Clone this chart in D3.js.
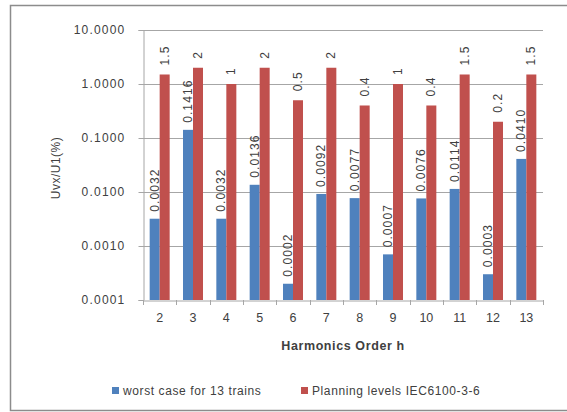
<!DOCTYPE html>
<html>
<head>
<meta charset="utf-8">
<script src="https://cdn.jsdelivr.net/npm/d3@7"></script>
<style>
  body { margin: 0; background: #fff; }
  text { font-family: "Liberation Sans", Arial, sans-serif; fill: #404040; }
</style>
</head>
<body>
<svg id="chart" width="567" height="412"></svg>
<script>
let harmonics = ["2", "3", "4", "5", "6", "7", "8", "9", "10", "11", "12", "13"];
let worstCase = [0.0032, 0.1416, 0.0032, 0.0136, 0.0002, 0.0092, 0.0077, 0.0007, 0.0076, 0.0114, 0.0003, 0.0410];
let worstLabels = ["0.0032", "0.1416", "0.0032", "0.0136", "0.0002", "0.0092", "0.0077", "0.0007", "0.0076", "0.0114", "0.0003", "0.0410"];
let planning = [1.5, 2, 1, 2, 0.5, 2, 0.4, 1, 0.4, 1.5, 0.2, 1.5];
let yTicks = [0.0001, 0.001, 0.01, 0.1, 1, 10];
let seriesNames = ["worst case for 13 trains", "Planning levels IEC6100-3-6"];

let blue = "#4f81bd";
let red = "#c0504d";

let plot = { left: 143, right: 543, top: 30, bottom: 300 };

let svg = d3.select("#chart");

// outer frame
svg.append("rect")
  .attr("x", 10.5)
  .attr("y", 5.5)
  .attr("width", 570)
  .attr("height", 405)
  .style("fill", "none")
  .style("stroke", "#8c8c8c")
  .style("stroke-width", 1.5);

let xScale = d3.scaleBand()
  .domain(harmonics)
  .range([plot.left, plot.right])
  .paddingInner(0.4)
  .paddingOuter(0.2);

let yScale = d3.scaleLog()
  .domain([0.0001, 10])
  .range([plot.bottom, plot.top]);

let barW = xScale.bandwidth() / 2;

// gridlines
svg.selectAll(".grid")
  .data(yTicks.slice(1))
  .enter()
  .append("line")
    .attr("x1", plot.left)
    .attr("x2", plot.right)
    .attr("y1", d => Math.round(yScale(d)) + 0.5)
    .attr("y2", d => Math.round(yScale(d)) + 0.5)
    .style("stroke", "#a6a6a6")
    .style("stroke-width", 1);

// y axis
let yAxis = d3.axisLeft(yScale)
  .tickValues(yTicks)
  .tickFormat(d => d.toFixed(4))
  .tickSize(5)
  .tickPadding(13);

let yG = svg.append("g")
  .attr("transform", `translate(${plot.left + 0.5},0)`)
  .call(yAxis);
yG.select(".domain").style("stroke", "#a6a6a6");
yG.selectAll(".tick line").style("stroke", "#a6a6a6");
yG.selectAll(".tick text")
  .style("font-size", "12px")
  .style("letter-spacing", "1.2px")
  .style("fill", "#404040");

// x axis
let xAxis = d3.axisBottom(xScale).tickSize(0).tickPadding(13);
let xG = svg.append("g")
  .attr("transform", `translate(0,${plot.bottom + 0.5})`)
  .call(xAxis);
xG.select(".domain").style("stroke", "#a6a6a6");
xG.selectAll(".tick text")
  .style("font-size", "12.5px")
  .style("fill", "#404040");

// x tick marks at category boundaries
let step = xScale.step();
svg.selectAll(".xtick")
  .data(d3.range(harmonics.length + 1))
  .enter()
  .append("line")
    .attr("x1", i => Math.round(plot.left + i * step) + 0.5)
    .attr("x2", i => Math.round(plot.left + i * step) + 0.5)
    .attr("y1", plot.bottom)
    .attr("y2", plot.bottom + 5)
    .style("stroke", "#a6a6a6");

// bars
svg.selectAll(".barBlue")
  .data(worstCase)
  .enter()
  .append("rect")
    .attr("x", (d, i) => xScale(harmonics[i]))
    .attr("y", d => yScale(d))
    .attr("width", barW)
    .attr("height", d => plot.bottom - yScale(d))
    .style("fill", blue);

svg.selectAll(".barRed")
  .data(planning)
  .enter()
  .append("rect")
    .attr("x", (d, i) => xScale(harmonics[i]) + barW)
    .attr("y", d => yScale(d))
    .attr("width", barW)
    .attr("height", d => plot.bottom - yScale(d))
    .style("fill", red);

// data labels (rotated)
svg.selectAll(".lblBlue")
  .data(worstCase)
  .enter()
  .append("text")
    .attr("transform", (d, i) => `translate(${xScale(harmonics[i]) + barW / 2 + 4},${yScale(d) - 7}) rotate(-90)`)
    .text((d, i) => worstLabels[i])
    .style("font-size", "12px")
    .style("letter-spacing", "1.1px")
    .style("fill", "#404040");

svg.selectAll(".lblRed")
  .data(planning)
  .enter()
  .append("text")
    .attr("transform", (d, i) => `translate(${xScale(harmonics[i]) + barW * 1.5 + 4},${yScale(d) - 9}) rotate(-90)`)
    .text(d => d)
    .style("font-size", "12px")
    .style("letter-spacing", "1.1px")
    .style("fill", "#404040");

// axis titles
svg.append("text")
  .attr("x", (plot.left + plot.right) / 2)
  .attr("y", 350)
  .text("Harmonics Order h")
  .style("text-anchor", "middle")
  .style("font-weight", "bold")
  .style("letter-spacing", "0.6px")
  .style("font-size", "12.5px");

svg.append("text")
  .attr("transform", `translate(60,168) rotate(-90)`)
  .text("Uvx/U1(%)")
  .style("text-anchor", "middle")
  .style("letter-spacing", "0.5px")
  .style("font-size", "12px");

// legend
let legendX = [112, 301];
seriesNames.forEach((name, i) => {
  svg.append("rect")
    .attr("x", legendX[i])
    .attr("y", 387)
    .attr("width", 7)
    .attr("height", 7)
    .style("fill", i === 0 ? blue : red);
  svg.append("text")
    .attr("x", legendX[i] + 11)
    .attr("y", 395)
    .text(name)
    .style("font-size", "12px")
    .style("letter-spacing", "0.6px");
});
</script>
</body>
</html>
